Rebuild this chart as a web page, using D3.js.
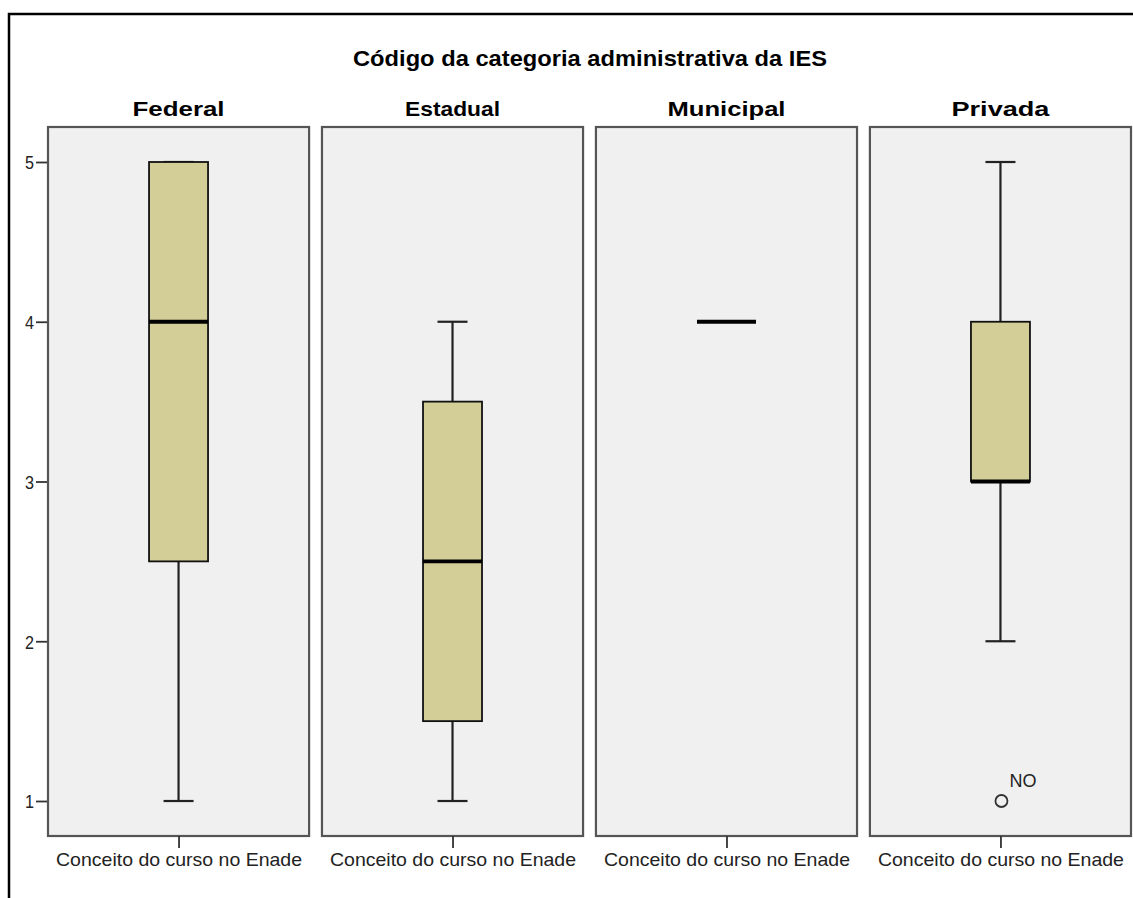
<!DOCTYPE html>
<html><head><meta charset="utf-8">
<script src="https://cdn.jsdelivr.net/npm/d3@7"></script>
<style>body{margin:0;background:#fff;}svg{display:block;font-family:Arial,"Liberation Sans",sans-serif;}</style>
</head><body>
<svg id="c" width="1133" height="898"></svg>
<script>
const chartTitle = "Código da categoria administrativa da IES";
const categories = ["Federal", "Estadual", "Municipal", "Privada"];
const variableLabel = "Conceito do curso no Enade";
const mins    = [1, 1, 4, 2];
const q1s     = [2.5, 1.5, 4, 3];
const medians = [4, 2.5, 4, 3];
const q3s     = [5, 3.5, 4, 4];
const maxs    = [5, 4, 4, 5];
const outliers = [[], [], [], [{v: 1, label: "NO"}]];
const yTicks = [1, 2, 3, 4, 5];

const FONT = "Arial, 'Liberation Sans', sans-serif";
const svg = d3.select("#c");
// outer frame (cropped figure)
svg.append("path").attr("d", "M9,898 V14 H1133").attr("fill", "none").attr("stroke", "#000").attr("stroke-width", 2.5);

svg.append("text").attr("x", 590).attr("y", 66).attr("text-anchor", "middle")
  .attr("font-weight", "bold").attr("font-size", 21.5).attr("textLength", 474).attr("lengthAdjust", "spacingAndGlyphs")
  .text(chartTitle);

const titleLen = {Federal: 92, Estadual: 95, Municipal: 118, Privada: 98};

const y = d3.scaleLinear().domain([1, 5]).range([801, 162]);
const panelX = d3.scaleBand().domain(categories).range([48, 1131]).paddingInner(0.047).paddingOuter(0);
const panelTop = 127, panelBottom = 836;
const boxW = 59, capW = 30;

// y axis
const ya = svg.append("g").attr("transform", "translate(48,0)")
  .call(d3.axisLeft(y).tickValues(yTicks).tickFormat(d3.format("d")).tickSize(12).tickPadding(2));
ya.select(".domain").remove();
ya.selectAll("line").attr("stroke", "#333").attr("stroke-width", 1.8);
ya.selectAll("text").attr("font-size", 19).attr("fill", "#222").attr("font-family", FONT).attr("dy", "0.36em")
  .attr("textLength", 9).attr("lengthAdjust", "spacingAndGlyphs");

categories.forEach((cat, i) => {
  const x0 = panelX(cat), w = panelX.bandwidth(), cx = x0 + w / 2;
  const g = svg.append("g");
  g.append("rect").attr("x", x0).attr("y", panelTop).attr("width", w).attr("height", panelBottom - panelTop)
    .attr("fill", "#f0f0f0").attr("stroke", "#555").attr("stroke-width", 2.2);
  g.append("text").attr("x", cx).attr("y", 116).attr("text-anchor", "middle")
    .attr("font-weight", "bold").attr("font-size", 21)
    .attr("textLength", titleLen[cat]).attr("lengthAdjust", "spacingAndGlyphs").text(cat);
  // bottom axis
  const xs = d3.scalePoint().domain([variableLabel]).range([cx, cx]);
  const xa = g.append("g").attr("transform", `translate(0,${panelBottom})`)
    .call(d3.axisBottom(xs).tickSize(12).tickPadding(5));
  xa.select(".domain").remove();
  xa.selectAll("line").attr("stroke", "#333").attr("stroke-width", 1.8);
  xa.selectAll("text").attr("font-size", 18.5).attr("fill", "#222").attr("font-family", FONT)
    .attr("textLength", 246).attr("lengthAdjust", "spacingAndGlyphs");

  const mn = mins[i], mx = maxs[i], a = q1s[i], b = q3s[i], m = medians[i];
  if (a !== b) {
    g.append("line").attr("x1", cx).attr("x2", cx).attr("y1", y(mx)).attr("y2", y(b)).attr("stroke", "#222").attr("stroke-width", 2.2);
    g.append("line").attr("x1", cx).attr("x2", cx).attr("y1", y(a)).attr("y2", y(mn)).attr("stroke", "#222").attr("stroke-width", 2.2);
    g.append("line").attr("x1", cx - capW / 2).attr("x2", cx + capW / 2).attr("y1", y(mx)).attr("y2", y(mx)).attr("stroke", "#222").attr("stroke-width", 2.2);
    g.append("line").attr("x1", cx - capW / 2).attr("x2", cx + capW / 2).attr("y1", y(mn)).attr("y2", y(mn)).attr("stroke", "#222").attr("stroke-width", 2.2);
    g.append("rect").attr("x", cx - boxW / 2).attr("y", y(b)).attr("width", boxW).attr("height", y(a) - y(b))
      .attr("fill", "#d3ce97").attr("stroke", "#111").attr("stroke-width", 1.8);
  }
  g.append("line").attr("x1", cx - boxW / 2).attr("x2", cx + boxW / 2).attr("y1", y(m)).attr("y2", y(m))
    .attr("stroke", "#000").attr("stroke-width", 3.8);
  outliers[i].forEach(o => {
    g.append("circle").attr("cx", cx + 1).attr("cy", y(o.v)).attr("r", 6).attr("fill", "none").attr("stroke", "#333").attr("stroke-width", 1.8);
    g.append("text").attr("x", cx + 9).attr("y", y(o.v) - 14).attr("font-size", 18).attr("fill", "#222").text(o.label);
  });
});
</script>
</body></html>
